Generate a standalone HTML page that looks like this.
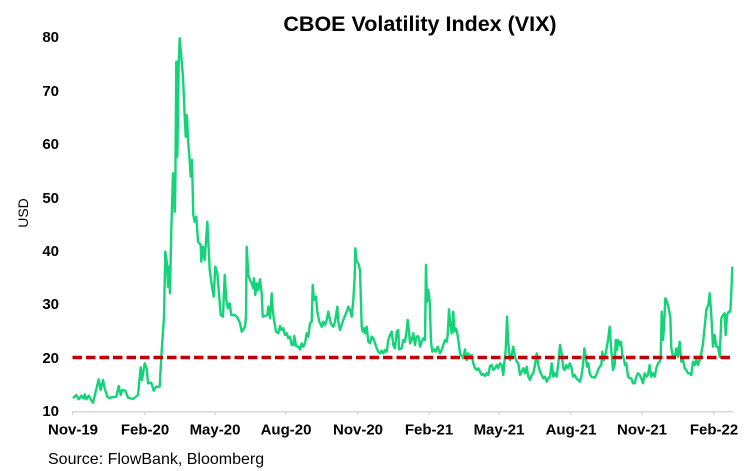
<!DOCTYPE html>
<html>
<head>
<meta charset="utf-8">
<style>
html,body{margin:0;padding:0;background:#fff;}
svg{display:block;}
text{font-family:"Liberation Sans",Arial,sans-serif;fill:#000;}
.tk{font-size:15px;font-weight:bold;}
</style>
</head>
<body>
<svg width="753" height="471" viewBox="0 0 753 471" xmlns="http://www.w3.org/2000/svg">
<rect width="753" height="471" fill="#fff"/>
<text x="420" y="31" font-size="21.5" font-weight="bold" text-anchor="middle">CBOE Volatility Index (VIX)</text>
<text transform="translate(28,213) rotate(-90)" font-size="14" text-anchor="middle">USD</text>
<g class="tk" text-anchor="end">
<text x="59" y="42">80</text>
<text x="59" y="96">70</text>
<text x="59" y="149">60</text>
<text x="59" y="203">50</text>
<text x="59" y="256">40</text>
<text x="59" y="309">30</text>
<text x="59" y="363">20</text>
<text x="59" y="416">10</text>
</g>
<line x1="72" y1="411.7" x2="733" y2="411.7" stroke="#d9d9d9" stroke-width="1.5"/>
<g stroke="#d9d9d9" stroke-width="1.5">
<line x1="72.7" y1="411" x2="72.7" y2="415"/>
<line x1="145" y1="411" x2="145" y2="415"/>
<line x1="215" y1="411" x2="215" y2="415"/>
<line x1="285.7" y1="411" x2="285.7" y2="415"/>
<line x1="357.7" y1="411" x2="357.7" y2="415"/>
<line x1="429.3" y1="411" x2="429.3" y2="415"/>
<line x1="499" y1="411" x2="499" y2="415"/>
<line x1="570.7" y1="411" x2="570.7" y2="415"/>
<line x1="642" y1="411" x2="642" y2="415"/>
<line x1="713.7" y1="411" x2="713.7" y2="415"/>
</g>
<g class="tk" text-anchor="middle">
<text x="73" y="434.5">Nov-19</text>
<text x="145" y="434.5">Feb-20</text>
<text x="215" y="434.5">May-20</text>
<text x="286" y="434.5">Aug-20</text>
<text x="358" y="434.5">Nov-20</text>
<text x="429" y="434.5">Feb-21</text>
<text x="499" y="434.5">May-21</text>
<text x="571" y="434.5">Aug-21</text>
<text x="642" y="434.5">Nov-21</text>
<text x="714" y="434.5">Feb-22</text>
</g>
<text x="48" y="464" font-size="16">Source: FlowBank, Bloomberg</text>
<polyline fill="none" stroke="#14d378" stroke-width="2.4" stroke-linejoin="round" points="
73,398.3 76.3,395 78.7,399.3 81.3,395.7 83.7,398.3 84.7,394.3 86.3,399.3 88.7,395.7 90.7,399.3 93,402.7 95.3,393.3 98.7,379.3 100.7,390 103,380 104.7,388.3 107.3,396.7 109.7,398.3 111.3,397.3 116.3,396.7 118.7,386 120.7,395 122.3,390 125.3,390.7 128,397.7 133,399 138,395 140.7,367.3 142,380 144.7,363.3 146.7,368.3 148,383.3 151.3,382.7 153.7,390.7 156,386.7 159.7,386.7 161.3,356.7 164,316.7 165.3,251.7 167,263.3 168,286.7 169,266.7 170,293.3 171.3,230 173,173.3 174.7,211.7 175.3,190 176.3,61.7 177.3,156.7 178.7,63.3 179.7,38.3 181.3,56.7 183,76.7 184.7,116.7 185.7,136.7 186.7,115 187.3,123.3 188,140 189.7,160 190.7,176.7 192,160 193.3,215 194.7,221.7 196.3,216.7 198,241.7 200.7,245 201.3,261.7 203,246.7 204.7,260 207.3,221.7 209.7,270 212,286.7 213.7,296.7 215.3,266.7 217.3,273.3 218.7,290 220.7,315 223,316.7 224.7,275 226.3,300 228,308.3 229.7,303.3 231.3,315 234.7,315 237.3,317.3
240,323.3 241.7,331.7 243.3,329.3 245,326.7 246,316.7 246.7,246.7 248.3,275 250,280 251.7,283.3 253.3,288.3 254,278.3 255.3,295 256.7,283.3 258.3,290 260,279.3 261.7,293.3 262.7,316.7 265,316 267.3,315 268.3,306.7 269.3,310 270,318.3 271.7,293.3 272.7,310 274,320 276,331.7 278.3,333.3 280,326 281.7,330 283.3,328.3 285,335 286.7,333.3 288.3,338.3 290,336.7 291.7,345 293.3,345 294.3,336 296,346 298.3,346.7 300,349.3 301.7,343.3 303.3,346.7 305,343.3 306.7,333.3 308.3,336.7 310,323.3 311.7,321.7 312.7,285 314,300 316,296.7 317.3,311.7 319.3,321.7 321.7,326.7 323.3,321.7 325,325 326.7,320 328.3,311.7 330,320 331.7,325 333.3,326.7 335,321.7 337.3,306.7 338.3,321.7 340,330 343.3,320 346.7,311.7 348.3,306.7 350,310 351.7,316.7 353.3,300 354.7,276.7 355.3,248.3 356.7,261.7 358.3,263.3 360,270 361.7,326.7 362.7,331.7 364,328.3 365,333.3 366.7,326.7 368.3,341.7 370,343.3 371.7,336.7 373.3,338.3 375,343.3 376.7,348.3 378.3,351.7 380,353.3 381.7,350.7 383.3,353.3 385,350 386.7,351.7 388.3,340 390,335 391.7,331.7 393.3,345 395,348.3 396.7,331.7 398.3,330
399,349.3 401.7,348.3 403.3,340 405,341.7 406.7,330 407.7,320 409,331.7 410,343.3 411.7,340 413.3,333.3 415,345 416,338.3 417.7,336 419,338.3 420,346.7 421.7,341.7 423.3,338.3 425,340 426,265 427,301.7 428.3,290 429.7,301.7 431,341.7 432.3,351.7 434.3,349.3 435.7,351.7 437.7,346.7 440,353.3 441.7,350 443.3,345 445,340 446.7,341.7 447.7,335 449,309.3 450,321.7 451.7,333.3 453.3,311.7 454.3,331.7 455.7,328.3 457,331.7 458.3,340 460,353.3 461.7,356 463.3,358.3 465,349.3 466.7,360 468.3,353.3 470,358.3 471.7,355 473.3,363.3 475,368.3 476.7,370 478.3,368.3 480,371.7 481.7,375 483.3,374 485,376 486.7,373.3 488.3,375 490,366 491.7,365 493.3,370 495,368.3 496.7,365 498.3,368.3 500,363.3 501.7,365 503.3,375 504.3,363.3 505.7,350 507,316.7 508.3,343.3 510,360 511.7,355 513.3,346.7 515,356.7 516.7,361.7 518.3,363.3 520,375 521.7,371.7 523.3,368.3 525,373.3 526.7,366.7 528.3,376.7 530,380 531.7,375 533.3,373.3 535,365 536.7,353.3 538.3,365 540,371.7 541.7,375 543.3,378.3 545,376.7 546.7,381.7 548.3,378.3 550,376.7 551.7,363.3 553.3,376.7 555,373.3 556.7,376.7 558.3,363.3 560,345 561.7,353.3 563.3,368.3
564.7,370 566.3,365 568,368.3 569.7,363.3 571.3,366.7 573,376.7 574.7,375 576.3,378.3 579.7,381.7 581.3,376.7 583,365 584.3,348.3 585.7,356.7 587,366.7 588.3,363.3 589.7,373.3 591.3,376.7 594.7,377.7 596.3,375 598,370 599.7,366.7 601.3,365 602.3,351.7 603.7,360 605.7,353.3 608,340 609.7,326.7 611,346.7 613,370 614.7,365 615.7,340 617,350 618,340 619.7,345 621,341.7 622.3,355 623.7,358.3 625,365 626.3,363.3 628,376.7 629.7,378.3 631.3,378.3 633,383.3 634.7,383.3 636.3,376.7 638,373.3 639.7,375 641.3,378.3 643,383.3 644.7,373.3 646.3,376.7 648,375 649.7,365 651.3,376.7 653,373.3 654.7,376.7 656.3,368.3 658,363.3 659.7,361.7 660.7,356.7 661.7,311.7 663,340 664,326.7 665.3,298.3 667,301.7 668.7,308.3 670.3,316.7 671.3,348.3 673,356.7 674.7,358.3 676.3,348.3 678,356.7 679.7,341.7 681.3,361.7 683,360 684.7,368.3 686.3,370 688,373.3 689.7,373.3 691.3,375 693,361.7 694.7,365 696.3,360 698,365 699.7,360 701.3,353.3 703,343.3 704.7,326.7 706.3,310 708.3,305 709.7,293.3 711.3,315 713,346.7 714.7,335 716.3,346.7 718,346.7 719.7,356.7 721.3,318.3 723,315 724.7,313.3 725.7,335 727,315 728.7,311.7 730.3,311.7 731.3,293.3 732.3,266.7"/>
<line x1="72.5" y1="357.5" x2="730" y2="357.5" stroke="#c00000" stroke-width="3.6" stroke-dasharray="9.5 4"/>
</svg>
</body>
</html>
